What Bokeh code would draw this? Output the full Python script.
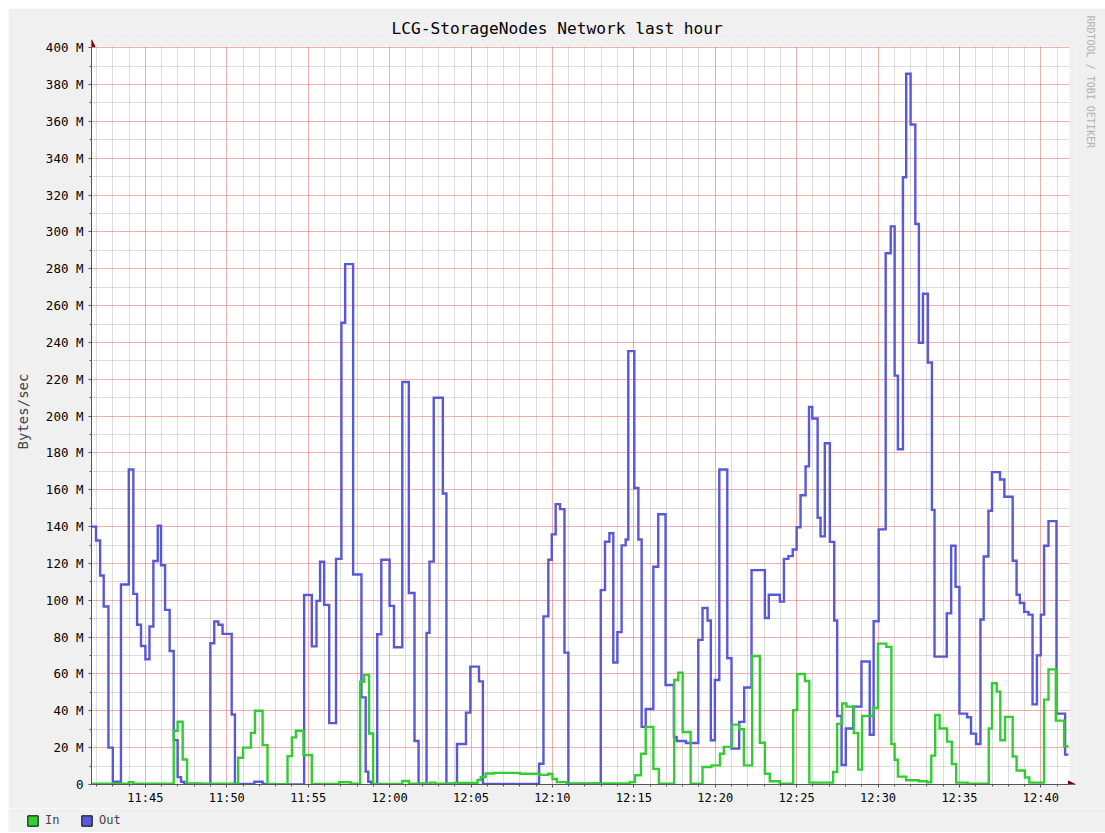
import math
from bokeh.plotting import figure
from bokeh.layouts import column
from bokeh.models import (FixedTicker, Range1d, Legend, LegendItem, Arrow,
                          NormalHead, Title)
from bokeh.embed import file_html
from bokeh.resources import INLINE

# ---------------- data (minutes after 11:00, values in MBytes/sec) ----------------
title_text = "LCG-StorageNodes Network last hour"
y_label = "Bytes/sec"
credit_text = "RRDTOOL / TOBI OETIKER"
series_names = ["In", "Out"]

x_start, x_end = 41.69, 101.69
y_top = 400
x_tick_minutes = [45, 50, 55, 60, 65, 70, 75, 80, 85, 90, 95, 100]
x_tick_labels = ["11:45", "11:50", "11:55", "12:00", "12:05", "12:10",
                 "12:15", "12:20", "12:25", "12:30", "12:35", "12:40"]
y_tick_values = [0, 20, 40, 60, 80, 100, 120, 140, 160, 180, 200, 220, 240,
                 260, 280, 300, 320, 340, 360, 380, 400]
y_tick_labels = ["0", "20 M", "40 M", "60 M", "80 M", "100 M", "120 M", "140 M",
                 "160 M", "180 M", "200 M", "220 M", "240 M", "260 M", "280 M",
                 "300 M", "320 M", "340 M", "360 M", "380 M", "400 M"]

out_t = [41.69, 41.97, 42.22, 42.44, 42.73, 43.0, 43.5, 43.98, 44.26, 44.49,
         44.73, 45.0, 45.25, 45.49, 45.76, 45.96, 46.21, 46.49, 46.74, 46.98,
         47.19, 47.39, 48.42, 48.99, 49.23, 49.48, 49.74, 50.3, 50.5, 51.69,
         52.2, 53.0, 54.75, 55.22, 55.51, 55.73, 55.98, 56.29, 56.71, 57.04,
         57.27, 57.76, 58.27, 58.53, 58.69, 58.88, 59.24, 59.49, 60.0, 60.27,
         60.78, 61.18, 61.53, 61.78, 62.27, 62.45, 62.71, 63.27, 63.49, 64.14,
         64.69, 64.96, 65.49, 65.73, 69.18, 69.45, 69.75, 69.96, 70.2, 70.47,
         70.74, 70.98, 72.97, 73.23, 73.5, 73.74, 73.99, 74.25, 74.5, 74.66,
         75.03, 75.28, 75.48, 75.73, 76.2, 76.5, 76.95, 77.46, 77.63, 78.2,
         78.96, 79.22, 79.53, 79.73, 79.98, 80.25, 80.74, 81.0, 81.47, 81.78,
         82.23, 83.05, 83.29, 83.97, 84.22, 84.49, 84.76, 85.0, 85.24, 85.55,
         85.76, 85.96, 86.29, 86.47, 86.73, 87.04, 87.31, 87.49, 87.76, 88.02,
         88.47, 88.98, 89.49, 89.73, 90.04, 90.47, 90.78, 91.02, 91.22, 91.53,
         91.73, 92.0, 92.29, 92.51, 92.76, 93.06, 93.31, 93.47, 94.22, 94.49,
         94.76, 95.0, 95.47, 95.71, 96.02, 96.29, 96.49, 96.78, 97.0, 97.49,
         97.76, 98.27, 98.51, 98.71, 98.98, 99.24, 99.49, 99.76, 100.0, 100.2,
         100.47, 100.96, 101.49, 101.69]
out_v = [140, 132.5, 113.5, 96.6, 20, 1.5, 108.6, 171, 103.5, 86.7,
         75.2, 68, 85.8, 121.3, 140.5, 119, 94.8, 72.5, 24.1, 4,
         1.5, 0.5, 0.2, 76.7, 88.5, 86.7, 81.8, 38, 0.3, 1.5,
         0.3, 0, 102.9, 75, 99.7, 120.9, 97.5, 33.3, 122.5, 250.7,
         282.5, 114, 47.3, 7, 1.5, 0, 81.6, 122, 97, 74.5,
         218.5, 104, 23.6, 0.5, 82.3, 121, 210, 158, 0.5, 22,
         39, 64, 56, 0.3, 11.3, 91.3, 122, 135.8, 152.2, 149.5,
         71.6, 0.4, 105.5, 131.8, 136.4, 66.2, 82.7, 129.8, 133, 235.3,
         161, 133, 31.3, 41, 118.2, 146.7, 54, 25.8, 23.6, 22.5,
         78.5, 95.8, 89, 24, 56.7, 171, 68.5, 19.5, 34, 52.7,
         116.4, 90.4, 103, 99.3, 122.5, 124, 127.6, 139.7, 157, 172.7,
         205, 198.7, 144.8, 134.7, 185.3, 131.7, 89, 37.2, 10.6, 30.4,
         42.3, 66.8, 27, 88.6, 138.5, 288.4, 303, 222, 182, 329.7,
         385.9, 358.3, 304.3, 239.8, 266.4, 229.1, 149.1, 69.4, 92.9, 129.6,
         107.3, 38.5, 36.5, 27.6, 22, 89.6, 123.8, 148.6, 169.6, 165.6,
         156.2, 121.5, 103, 98.5, 93.7, 92.2, 43.5, 70.1, 92.2, 129.6,
         143, 38.5, 16.2, 16.2]

in_t = [41.69, 43.98, 44.26, 46.74, 46.98, 47.29, 47.56, 50.7, 51.0, 51.48,
        51.73, 52.2, 52.5, 53.73, 54.0, 54.24, 54.71, 55.22, 56.9, 57.6,
        58.19, 58.43, 58.74, 58.99, 60.78, 61.18, 62.5, 62.8, 64.0, 65.4,
        65.6, 65.9, 66.4, 68.0, 69.24, 69.75, 70.0, 70.27, 70.88, 72.5,
        74.76, 75.07, 75.44, 75.73, 76.2, 76.54, 77.48, 77.73, 78.0, 78.49,
        79.22, 79.77, 80.29, 80.53, 81.04, 81.47, 81.76, 82.27, 82.74, 83.05,
        83.35, 83.97, 84.79, 85.04, 85.51, 85.78, 87.24, 87.49, 87.8, 88.06,
        88.51, 88.78, 89.02, 89.69, 90.0, 90.51, 90.82, 91.02, 91.22, 91.73,
        92.5, 93.0, 93.27, 93.51, 93.78, 94.24, 94.53, 94.8, 95.5, 96.8,
        97.0, 97.29, 97.51, 97.8, 98.27, 98.51, 99.02, 99.29, 100.2, 100.47,
        100.92, 101.43, 101.69]
in_v = [0.5, 1.2, 0.5, 29.2, 34.1, 13.6, 0.5, 14.5, 20, 28,
        40, 21.4, 0.2, 15.4, 25.6, 29.2, 16, 0.3, 1.2, 0.4,
        55.8, 59.5, 27.7, 0.3, 1.9, 0.5, 1, 0.4, 0.8, 2.5,
        4.0, 6.0, 6.3, 5.8, 5.2, 5.8, 3.0, 1.3, 0.4, 0.6,
        1.3, 5, 16.7, 31.3, 8.5, 0.4, 56.7, 60.7, 28.5, 0.4,
        9.5, 10.4, 16.7, 20.4, 32.5, 30, 10.4, 69.8, 22.7, 5.8,
        1.8, 0.4, 40.4, 60, 56.2, 1, 6.8, 32.9, 44, 42.3,
        27.9, 8.1, 37.2, 41.5, 76.5, 74.7, 22, 13.4, 4.3, 2.3,
        1.8, 1.2, 15.7, 37.7, 30.4, 23.3, 11.1, 1, 0.5, 30.4,
        55, 50.4, 24, 36.7, 15.2, 7.6, 3.8, 1, 46.1, 62.5,
        34.7, 20.8, 20.8]

# ---------------- styling ----------------
FONT = "DejaVu Sans Mono"
BACK = "#F0F0F0"
IN_COLOR = "#33CC33"
OUT_COLOR = "#5858D8"
ARROW_COLOR = "#800000"
AXIS_COLOR = "#555555"

# frame slightly larger than the data area so the axis arrows fit inside it
x_max = x_end + 0.5
y_max = y_top + 5

p = figure(width=1097, height=800, output_backend="svg", toolbar_location=None,
           x_range=Range1d(x_start, x_max), y_range=Range1d(0, y_max),
           min_border_left=83, min_border_right=27, min_border_top=30,
           min_border_bottom=24)
p.border_fill_color = BACK
p.background_fill_color = "white"
p.outline_line_color = None

p.title.text = title_text
p.title.text_font = FONT
p.title.text_font_size = "16.2px"
p.title.text_font_style = "normal"
p.title.text_color = "black"
p.title.align = "left"
p.title.offset = 300
p.title.standoff = 2

minor_x = [m for m in range(42, 102) if m % 5 != 0]
minor_y = [v for v in range(10, 400, 20)]
xt = FixedTicker(ticks=x_tick_minutes, minor_ticks=minor_x)
yt = FixedTicker(ticks=y_tick_values, minor_ticks=minor_y)
p.xaxis.ticker = xt
p.yaxis.ticker = yt
p.xgrid.ticker = xt
p.ygrid.ticker = yt
p.xaxis.major_label_overrides = dict(zip(x_tick_minutes, x_tick_labels))
p.yaxis.major_label_overrides = dict(zip(y_tick_values, y_tick_labels))
p.xaxis.bounds = (x_start, x_end)
p.yaxis.bounds = (0, y_top)

for g in (p.xgrid, p.ygrid):
    g.grid_line_color = "#DE5050"
    g.grid_line_alpha = 0.45
    g.minor_grid_line_color = "#8F8F8F"
    g.minor_grid_line_alpha = 0.3

for ax in (p.xaxis, p.yaxis):
    ax.axis_line_color = AXIS_COLOR
    ax.major_tick_line_color = AXIS_COLOR
    ax.minor_tick_line_color = AXIS_COLOR
    ax.major_tick_in = 0
    ax.major_tick_out = 3
    ax.minor_tick_in = 0
    ax.minor_tick_out = 2
    ax.major_label_text_font = FONT
    ax.major_label_text_font_size = "12.5px"
    ax.major_label_text_color = "black"
p.xaxis.major_label_text_font_size = "12px"

p.yaxis.axis_label = y_label
p.yaxis.axis_label_text_font = FONT
p.yaxis.axis_label_text_font_size = "14px"
p.yaxis.axis_label_text_font_style = "normal"
p.yaxis.axis_label_standoff = 12
p.yaxis.major_label_standoff = 5
p.xaxis.major_label_standoff = 3

# gray strips over the frame margin (outside the graph canvas)
p.quad(left=[x_start], right=[x_max], bottom=[y_top + 0.6], top=[y_max],
       fill_color=BACK, line_color=None, level="guide")
p.quad(left=[x_end + 0.07], right=[x_max], bottom=[0.4], top=[y_max],
       fill_color=BACK, line_color=None, level="guide")

# series
p.step(out_t, out_v, mode="after", line_color=OUT_COLOR, line_width=2.4,
       line_join="miter")
p.step(in_t, in_v, mode="after", line_color=IN_COLOR, line_width=2.4,
       line_join="miter")

# axis arrows
p.add_layout(Arrow(end=NormalHead(size=7, fill_color=ARROW_COLOR, line_color=ARROW_COLOR),
                   x_start=x_end, y_start=0, x_end=x_end + 0.43, y_end=0,
                   line_color=AXIS_COLOR, line_width=1))
p.add_layout(Arrow(end=NormalHead(size=7, fill_color=ARROW_COLOR, line_color=ARROW_COLOR),
                   x_start=x_start, y_start=y_top, x_end=x_start, y_end=y_top + 4.3,
                   line_color=AXIS_COLOR, line_width=1))

# vertical credit text on the right
credit = Title(text=credit_text, align="left", offset=-23, standoff=16,
               text_font=FONT, text_font_size="10px", text_font_style="normal",
               text_color="#B0B0B0")
p.add_layout(credit, "right")

# ---------------- legend strip under the graph ----------------
lf = figure(frame_width=1097, frame_height=24, output_backend="svg",
            toolbar_location=None,
            x_range=Range1d(0, 1097), y_range=Range1d(0, 24),
            x_axis_type=None, y_axis_type=None,
            min_border_left=0, min_border_right=0, min_border_top=0,
            min_border_bottom=0)
for fig in (p, lf):
    try:
        fig.frame_align = False
    except Exception:
        pass
lf.border_fill_color = BACK
lf.background_fill_color = BACK
lf.outline_line_color = None
lf.grid.visible = False

# swatch glyphs kept outside the visible range: only their legend swatches show
r_in_leg = lf.quad(left=[-30], right=[-20], top=[-20], bottom=[-30],
                   fill_color=IN_COLOR, line_color="black")
r_out_leg = lf.quad(left=[-30], right=[-20], top=[-20], bottom=[-30],
                    fill_color=OUT_COLOR, line_color="black")
legend = Legend(items=[LegendItem(label=series_names[0], renderers=[r_in_leg]),
                       LegendItem(label=series_names[1], renderers=[r_out_leg])],
                location=(18, 5), orientation="horizontal",
                glyph_width=13, glyph_height=13, label_height=13,
                label_text_font=FONT, label_text_font_size="12px",
                label_standoff=6, spacing=15, padding=0, margin=0,
                background_fill_alpha=0, border_line_color=None)
lf.add_layout(legend, "center")

layout = column(p, lf, spacing=0, margin=(8, 0, 0, 8))

open("out.html", "w").write(file_html(layout, INLINE))
